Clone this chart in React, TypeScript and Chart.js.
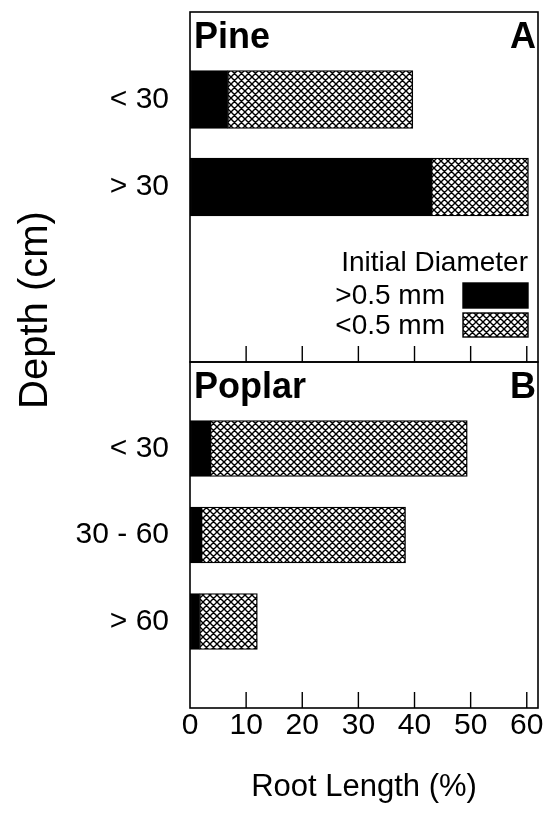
import React, { useEffect, useRef } from 'react';
import { Chart, registerables } from 'chart.js';

Chart.register(...registerables);

// ---- data ----
const pineDepths = ['< 30', '> 30'];
const pineCoarse = [6.7, 43.0];
const pineFine = [33.0, 17.3];

const poplarDepths = ['< 30', '30 - 60', '> 60'];
const poplarCoarse = [3.6, 2.0, 1.7];
const poplarFine = [45.8, 36.4, 10.3];

const xTicks = [0, 10, 20, 30, 40, 50, 60];
const seriesLabels = ['>0.5 mm', '<0.5 mm'];
const legendTitle = 'Initial Diameter';
const panelNames = ['Pine', 'Poplar'];
const panelLetters = ['A', 'B'];
const xTitle = 'Root Length (%)';
const yTitle = 'Depth (cm)';

const FONT = "'Liberation Sans', Arial, sans-serif";

function makeHatch(): CanvasPattern | string {
  const s = 7;
  const c = document.createElement('canvas');
  c.width = s;
  c.height = s;
  const g = c.getContext('2d');
  if (!g) return '#888';
  g.fillStyle = '#fff';
  g.fillRect(0, 0, s, s);
  g.strokeStyle = '#000';
  g.lineWidth = 1.4;
  g.beginPath();
  for (const k of [-1, 0, 1]) {
    g.moveTo(k * s, 0);
    g.lineTo(k * s + s, s);
    g.moveTo(k * s, s);
    g.lineTo(k * s + s, 0);
  }
  g.stroke();
  return g.createPattern(c, 'repeat') || '#888';
}

const decor = {
  id: 'decor',
  afterDatasetsDraw(chart: any) {
    const ctx = chart.ctx as CanvasRenderingContext2D;
    const ca = chart.chartArea;
    const xs = chart.scales.x;
    const panels = [chart.scales.yPine, chart.scales.yPoplar];
    ctx.save();
    ctx.strokeStyle = '#000';
    ctx.fillStyle = '#000';
    panels.forEach((ys: any, i: number) => {
      // frame
      ctx.lineWidth = 1.6;
      ctx.strokeRect(ca.left, ys.top, ca.right - ca.left, ys.bottom - ys.top);
      // inside ticks
      ctx.lineWidth = 1.4;
      ctx.beginPath();
      xTicks.forEach((v) => {
        if (v <= 0) return;
        const px = xs.getPixelForValue(v);
        ctx.moveTo(px, ys.bottom - 16);
        ctx.lineTo(px, ys.bottom);
      });
      ctx.stroke();
      // panel titles
      ctx.font = `bold 36px ${FONT}`;
      ctx.textBaseline = 'alphabetic';
      ctx.textAlign = 'left';
      ctx.fillText(panelNames[i], ca.left + 4, ys.top + 36);
      ctx.textAlign = 'right';
      ctx.fillText(panelLetters[i], ca.right - 2, ys.top + 36);
    });

    // legend inside pine panel
    const top = panels[0].top;
    const right = ca.right - 10;
    ctx.font = `28px ${FONT}`;
    ctx.textAlign = 'right';
    ctx.textBaseline = 'alphabetic';
    ctx.fillText(legendTitle, right, top + 259);
    const rows = [
      { base: top + 292, boxTop: top + 271, boxH: 25 },
      { base: top + 322, boxTop: top + 301, boxH: 24 },
    ];
    rows.forEach((r, j) => {
      ctx.fillStyle = '#000';
      ctx.fillText(seriesLabels[j], right - 83, r.base);
      const ds = chart.data.datasets[j];
      ctx.fillStyle = ds.backgroundColor;
      ctx.fillRect(right - 65, r.boxTop, 65, r.boxH);
      ctx.lineWidth = 1.4;
      ctx.strokeStyle = '#000';
      ctx.strokeRect(right - 65, r.boxTop, 65, r.boxH);
    });

    // y title
    ctx.fillStyle = '#000';
    ctx.font = `40px ${FONT}`;
    ctx.translate(36, ca.top + 298);
    ctx.rotate(-Math.PI / 2);
    ctx.textAlign = 'center';
    ctx.textBaseline = 'middle';
    ctx.fillText(yTitle, 0, 0);
    ctx.restore();
  },
};

const zeroPad = (s: any) => {
  s.paddingTop = 0;
  s.paddingBottom = 0;
  s.paddingLeft = 0;
  s.paddingRight = 0;
};

export default function App() {
  const ref = useRef<HTMLCanvasElement | null>(null);

  useEffect(() => {
    if (!ref.current) return;
    const hatch = makeHatch();
    const pineLabels = ['', ...pineDepths, '', ''];
    const poplarLabels = ['', ...poplarDepths, ''];
    const padPine = (a: number[]) => [null, ...a, null, null];
    const padPoplar = (a: number[]) => [null, ...a, null];

    const common = {
      borderColor: '#000',
      borderWidth: 1.4,
      borderSkipped: false,
      grouped: false,
    };

    const yTickOpts = { font: { family: FONT, size: 30 }, color: '#000', padding: 21, autoSkip: false };

    const chart = new Chart(ref.current, {
      type: 'bar',
      data: {
        datasets: [
          { ...common, label: seriesLabels[0], data: padPine(pineCoarse), yAxisID: 'yPine', backgroundColor: '#000', barThickness: 58 },
          { ...common, label: seriesLabels[1], data: padPine(pineFine), yAxisID: 'yPine', backgroundColor: hatch, barThickness: 58 },
          { ...common, label: seriesLabels[0], data: padPoplar(poplarCoarse), yAxisID: 'yPoplar', backgroundColor: '#000', barThickness: 56 },
          { ...common, label: seriesLabels[1], data: padPoplar(poplarFine), yAxisID: 'yPoplar', backgroundColor: hatch, barThickness: 56 },
        ] as any,
      },
      options: {
        indexAxis: 'y',
        animation: false,
        responsive: false,
        layout: { padding: { top: 12, right: 10, left: 0, bottom: 0 } },
        plugins: { legend: { display: false }, tooltip: { enabled: false } },
        scales: {
          yPoplar: {
            type: 'category',
            labels: poplarLabels,
            position: 'left',
            stack: 'panels',
            stackWeight: 346,
            offset: false,
            stacked: true,
            grid: { display: false, drawTicks: false },
            border: { display: false },
            ticks: yTickOpts,
            afterFit: (s: any) => { s.width = 190; zeroPad(s); },
          },
          yPine: {
            type: 'category',
            labels: pineLabels,
            position: 'left',
            stack: 'panels',
            stackWeight: 350,
            offset: false,
            stacked: true,
            grid: { display: false, drawTicks: false },
            border: { display: false },
            ticks: yTickOpts,
            afterFit: (s: any) => { s.width = 190; zeroPad(s); },
          },
          x: {
            type: 'linear',
            position: 'bottom',
            min: 0,
            max: 62,
            stacked: true,
            grid: { display: false, drawTicks: false },
            border: { display: false },
            afterBuildTicks: (s: any) => { s.ticks = xTicks.map((v) => ({ value: v })); },
            ticks: { font: { family: FONT, size: 30 }, color: '#000', padding: 0, autoSkip: false, maxRotation: 0 },
            title: { display: true, text: xTitle, font: { family: FONT, size: 31 }, color: '#000', padding: { top: 0, bottom: 13 } },
            afterFit: (s: any) => { s.height = 111; zeroPad(s); },
          },
        } as any,
      },
      plugins: [decor],
    });
    return () => chart.destroy();
  }, []);

  return (
    <div style={{ position: 'absolute', left: 0, top: 0, width: 548, height: 819, background: '#fff' }}>
      <canvas ref={ref} width={548} height={819} style={{ width: 548, height: 819, display: 'block' }} />
    </div>
  );
}
